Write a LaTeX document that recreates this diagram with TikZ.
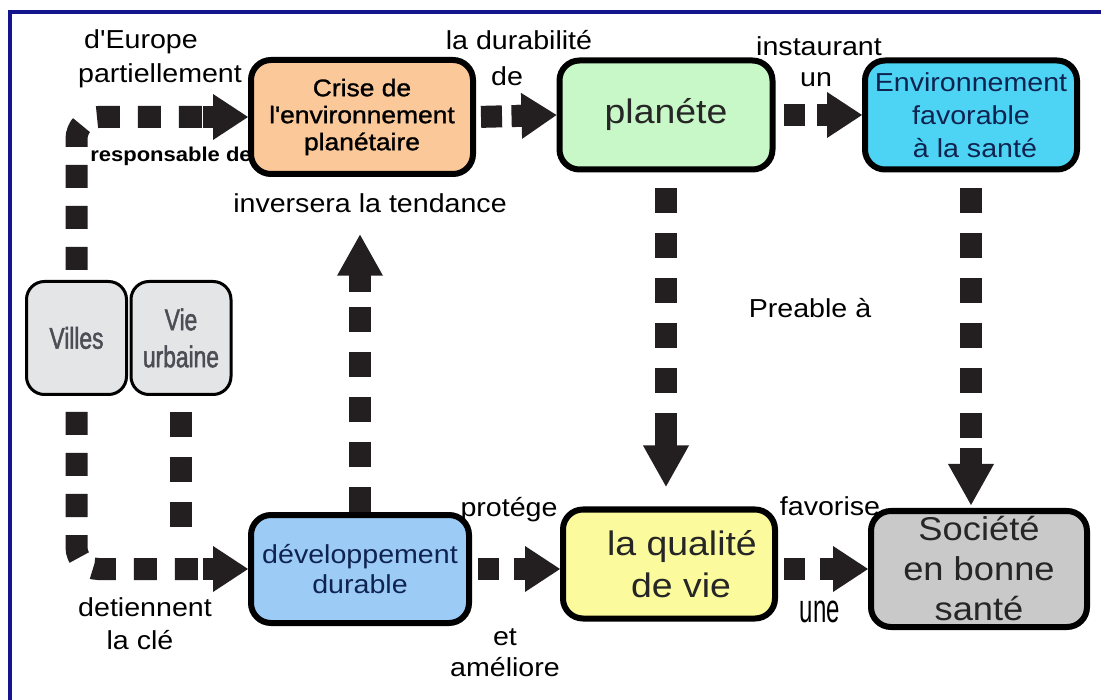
\documentclass[tikz,border=0pt]{standalone}
\usepackage{fontspec}
\setmainfont{Liberation Sans}[FakeStretch=1.1, Ligatures=TeXOff]
\newfontfamily\boldishfont{Liberation Sans}[FakeStretch=1.1, FakeBold=1.2, Ligatures=TeXOff]
\newfontfamily\narrowfont{Liberation Sans}[FakeStretch=0.76, FakeBold=1.6]
\newfontfamily\unefont{Liberation Sans}[FakeStretch=0.6]
\usetikzlibrary{arrows.meta}
\definecolor{navy}{HTML}{14148C}
\definecolor{cpeach}{HTML}{FBC899}
\definecolor{cgreen}{HTML}{C8F7C8}
\definecolor{ccyan}{HTML}{4DD4F4}
\definecolor{cblue}{HTML}{9CCBF6}
\definecolor{cyellow}{HTML}{FBFA9C}
\definecolor{cgrey}{HTML}{C9C9C9}
\definecolor{clight}{HTML}{E3E5E7}
\definecolor{txtnavy}{HTML}{0F2350}
\definecolor{ink}{HTML}{231F20}
\definecolor{greytxt}{HTML}{4D4D55}
\newcommand{\fsz}[2]{\fontsize{#1}{#2}\selectfont}
\tikzset{
  box/.style={draw=black, line width=6pt, rounded corners=20pt, align=center, inner sep=0pt},
  smallbox/.style={draw=black, line width=3pt, rounded corners=18pt, align=center, inner sep=0pt, fill=clight,
    minimum width=100pt, minimum height=113pt, text=greytxt, font=\narrowfont\fsz{30}{37}},
  lbl/.style={inner sep=0pt, font=\fsz{26}{30}, text=black},
  flow/.style={draw=ink, line width=22pt, dash pattern=on 21pt off 15pt, line cap=butt},
  vflow/.style={flow, dash pattern=on 25pt off 20pt},
  bflow/.style={flow, dash pattern=on 23pt off 18pt, rounded corners=22pt},
  headed/.style={-{Rectangle[length=11pt,width=22pt,line width=0pt,sep=-1pt]Triangle[length=35pt,width=46pt,line width=0pt,sep=0pt]}},
  vheaded/.style={-{Rectangle[length=17pt,width=22pt,line width=0pt,sep=-1pt]Triangle[length=41pt,width=46pt,line width=0pt,sep=0pt]}}
}
\begin{document}
\begin{tikzpicture}[x=1pt,y=-1pt]
\useasboundingbox (0,0) rectangle (1101,700);
\fill[white] (0,0) rectangle (1101,700);
\draw[navy, line width=3.5pt] (10,700) -- (10,12) -- (1101,12);

% boxes
\node[box, fill=cpeach, minimum width=222pt, minimum height=114pt, font=\boldishfont\fsz{24}{27}] (crise) at (362,117) {Crise de\\l'environnement\\planétaire};
\node[box, fill=cgreen, minimum width=213pt, minimum height=109pt, font=\fsz{34}{40}, text=black!85] (planete) at (666,115) {planéte};
\node[box, fill=ccyan, minimum width=212pt, minimum height=109pt, font=\fsz{26}{33}, text=txtnavy] (env) at (971,115) {Environnement\\favorable\\\ à la santé};
\node[smallbox] (villes) at (76.5,338) {Villes};
\node[smallbox] (vie) at (181,338) {Vie\\urbaine};
\node[box, fill=cblue, minimum width=218pt, minimum height=108pt, font=\fsz{26}{30}, text=txtnavy] (dev) at (360,569) {développement\\durable};
\node[box, fill=cyellow, minimum width=212pt, minimum height=109pt, font=\fsz{34}{42}, text=black!85] (qualite) at (669,564) {\hspace*{26pt}la qualité\\\hspace*{24pt}de vie};
\node[box, fill=cgrey, minimum width=216pt, minimum height=116pt, font=\fsz{33}{40}, text=black!85] (societe) at (979,569) {Société\\en bonne\\santé};

% labels
\node[lbl] (l1) at (141,42) {d'Europe};
\node[lbl] (l2) at (160,76) {partiellement};
\node[lbl, font=\bfseries\fsz{20}{22}] (l3) at (171,156) {responsable de};
\node[lbl] (l4) at (519,40) {la durabilité};
\node[lbl] (l5) at (507,76) {de};
\node[lbl] (l6) at (819,46) {instaurant};
\node[lbl] (l7) at (816,80) {un};
\node[lbl] (inv) at (370,203) {inversera la tendance};
\node[lbl] (l9) at (810,308) {Preable à};
\node[lbl] (l10) at (509,510) {protége};
\node[lbl] (l11) at (830,506) {favorise};
\node[lbl] (l12) at (145,607) {detiennent};
\node[lbl] (l13) at (140,640) {la clé};
\node[lbl] (l14) at (505,637) {et};
\node[lbl] (l15) at (505,667) {améliore};
\node[lbl, font=\unefont\fsz{40}{44}] (l16) at (820,612) {une};

% connectors
\draw[bflow, headed, shorten <=10pt] (villes.north) |- (crise.west);
\draw[flow, headed, shorten <=5pt] (crise.east) -- (planete.west);
\draw[flow, headed, shorten <=8pt] (planete.east) -- (env.west);
\draw[vflow, vheaded, shorten <=16pt, shorten >=20pt] (planete.south) -- (planete.south |- qualite.north);
\draw[vflow, vheaded, shorten <=16pt, shorten >=3pt] (env.south) -- (env.south |- societe.north);
\draw[vflow, vheaded, shorten >=22pt] (dev.north) -- (dev.north |- inv.south);
\draw[bflow, headed, shorten <=16pt] (villes.south) |- (dev.west);
\coordinate (join) at (vie.south |- dev.west);
\draw[vflow, shorten <=16pt, shorten >=39pt] (vie.south) -- (join);
\draw[flow, headed, shorten <=6pt] (dev.east) -- (dev.east -| qualite.west);
\draw[flow, headed, shorten <=6pt] (societe.west -| qualite.east) -- (societe.west);
\end{tikzpicture}
\end{document}
